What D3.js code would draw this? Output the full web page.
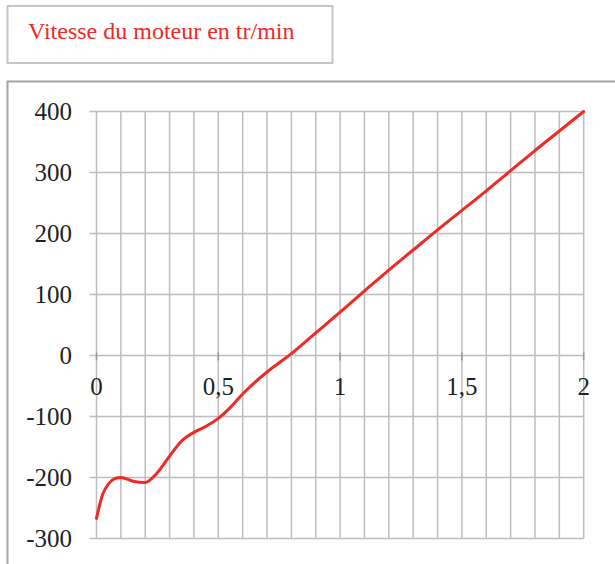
<!DOCTYPE html>
<html>
<head>
<meta charset="utf-8">
<script src="https://cdn.jsdelivr.net/npm/d3@7"></script>
<style>
    body { margin: 0; background: white; }
    svg { display: block; }
    svg text { font-family: "Liberation Serif", "Times New Roman", serif; }
</style>
</head>
<body>
<script>

var titleText = "Vitesse du moteur en tr/min";

// time (s) and motor speed (tr/min)
var times  = [0, 0.025, 0.05, 0.075, 0.1, 0.15, 0.2, 0.25, 0.3, 0.35, 0.4, 0.45, 0.5, 0.55, 0.6, 0.65, 0.7, 0.75, 0.8, 0.85, 0.9, 1.0, 1.1, 1.2, 1.3, 1.4, 1.5, 1.6, 1.7, 1.8, 1.9, 2.0];
var speeds = [-267, -228, -210, -202, -200, -206, -208, -192, -165, -140, -126, -116, -103, -85, -63, -44, -27, -12, 3, 20, 37, 71, 106, 140, 173, 206, 238, 270, 303, 336, 368, 400];

var xTicks = [0, 0.5, 1, 1.5, 2];
var xLabels = ["0", "0,5", "1", "1,5", "2"];
var yTicks = [400, 300, 200, 100, 0, -100, -200, -300];

var width = 615, height = 564;
var gridColor = "#bdbdc1";
var lineColor = "#ee2a26";
var serif = "Liberation Serif";

var svg = d3.select("body").append("svg")
    .attr("width", width)
    .attr("height", height);

//Title box
svg.append("rect")
    .attr("x", 7.5).attr("y", 6)
    .attr("width", 325).attr("height", 57)
    .style("fill", "white")
    .style("stroke", "#c6c6c6")
    .style("stroke-width", "2px");

svg.append("text")
    .attr("x", 28).attr("y", 39)
    .attr("font-family", serif)
    .attr("font-size", 24)
    .style("fill", lineColor)
    .text(titleText);

//Chart frame (runs off the right and bottom of the picture)
svg.append("rect")
    .attr("x", 7.5).attr("y", 81.5)
    .attr("width", 640).attr("height", 520)
    .style("fill", "white")
    .style("stroke", "#a3a3a7")
    .style("stroke-width", "2px");

var x = d3.scaleLinear().domain([0, 2]).range([96.5, 583.7]);
var y = d3.scaleLinear().domain([-300, 400]).range([538.5, 111.5]);

//Vertical grid every 0.1
var xGrid = d3.range(0, 21).map(function(i) { return i / 10; });
svg.append("g")
    .selectAll("line")
    .data(xGrid)
    .enter().append("line")
    .attr("x1", function(d) { return x(d); })
    .attr("x2", function(d) { return x(d); })
    .attr("y1", y(400))
    .attr("y2", y(-300))
    .style("stroke", gridColor)
    .style("stroke-width", "1.5px");

//Horizontal grid, extending left as tick marks
svg.append("g")
    .selectAll("line")
    .data(yTicks)
    .enter().append("line")
    .attr("x1", x(0) - 7)
    .attr("x2", x(2))
    .attr("y1", function(d) { return y(d); })
    .attr("y2", function(d) { return y(d); })
    .style("stroke", gridColor)
    .style("stroke-width", "1.5px");

//Small ticks on the zero axis
svg.append("g")
    .selectAll("line")
    .data(xTicks)
    .enter().append("line")
    .attr("x1", function(d) { return x(d); })
    .attr("x2", function(d) { return x(d); })
    .attr("y1", y(0) - 3)
    .attr("y2", y(0) + 5)
    .style("stroke", "#9a9a9e")
    .style("stroke-width", "1.5px");

//Y labels
svg.append("g")
    .selectAll("text")
    .data(yTicks)
    .enter().append("text")
    .attr("x", 72)
    .attr("y", function(d) { return y(d) + 8; })
    .attr("text-anchor", "end")
    .attr("font-family", serif)
    .attr("font-size", 25)
    .style("fill", "#231f20")
    .text(function(d) { return d; });

//X labels
svg.append("g")
    .selectAll("text")
    .data(xTicks)
    .enter().append("text")
    .attr("x", function(d) { return x(d); })
    .attr("y", 395)
    .attr("text-anchor", "middle")
    .attr("font-family", serif)
    .attr("font-size", 25)
    .style("fill", "#231f20")
    .text(function(d, i) { return xLabels[i]; });

//Speed curve
var points = times.map(function(t, i) { return [t, speeds[i]]; });
var line = d3.line()
    .x(function(d) { return x(d[0]); })
    .y(function(d) { return y(d[1]); })
    .curve(d3.curveMonotoneX);

svg.append("path")
    .datum(points)
    .attr("d", line)
    .style("fill", "none")
    .style("stroke", lineColor)
    .style("stroke-width", "3px")
    .style("stroke-linecap", "round");

</script>
</body>
</html>
